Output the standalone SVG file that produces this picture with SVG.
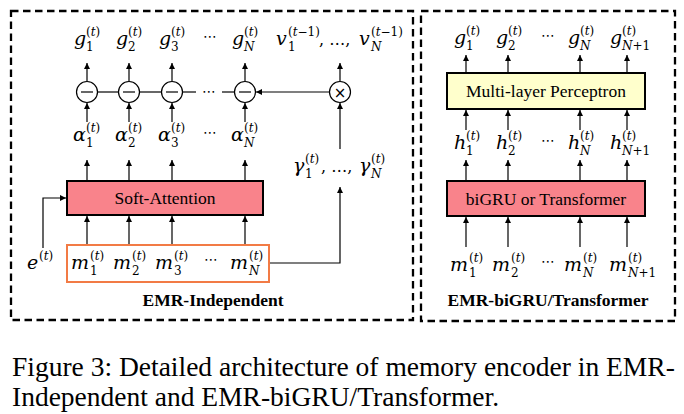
<svg xmlns="http://www.w3.org/2000/svg" width="684" height="414" viewBox="0 0 684 414">
<defs>
<marker id="ah" markerWidth="8" markerHeight="8" refX="6" refY="3" orient="auto" markerUnits="userSpaceOnUse">
<path d="M0,0 L6,3 L0,6 Z" fill="#000"/>
</marker>
<style>
.frame{fill:none;stroke:#000;stroke-width:2.3;stroke-dasharray:7.5 4.5}
.ln{fill:none;stroke:#000;stroke-width:1.2}
.ar{fill:none;stroke:#000;stroke-width:1.2;marker-end:url(#ah)}
.box{stroke:#000;stroke-width:2}
.pink{fill:#F9838B}
.yel{fill:#FFFFCC}
.op{fill:#fff;stroke:#000;stroke-width:1.2}
.v{font-family:"DejaVu Serif",serif;font-style:italic;font-size:19px;fill:#000}
.s{font-family:"DejaVu Serif",serif;font-size:12px;fill:#000}
.it{font-style:italic}
.dots{font-family:"DejaVu Sans",sans-serif;font-size:14px;fill:#000;text-anchor:middle}
.cm{font-family:"DejaVu Serif",serif;font-size:16px;fill:#000}
.bl{font-family:"Liberation Serif","Times New Roman",serif;font-size:17.5px;fill:#000;text-anchor:middle}
.ttl{font-family:"Liberation Serif","Times New Roman",serif;font-weight:bold;font-size:17.5px;fill:#000;text-anchor:middle}
.cap{font-family:"Liberation Serif","Times New Roman",serif;font-size:27.5px;fill:#000}
.sym{font-family:"DejaVu Sans",sans-serif;font-size:15px;fill:#000;text-anchor:middle}
</style>
</defs>

<g id="frame-left"><rect class="frame" x="11" y="11" width="402" height="309"/></g>
<g id="frame-right"><rect class="frame" x="421" y="11" width="254" height="310"/></g>

<g id="connectors">
<line class="ar" x1="87" y1="81" x2="87" y2="63"/>
<line class="ar" x1="129" y1="81" x2="129" y2="63"/>
<line class="ar" x1="172" y1="81" x2="172" y2="63"/>
<line class="ar" x1="245" y1="81" x2="245" y2="63"/>
<line class="ar" x1="340" y1="81" x2="340" y2="63"/>
<line class="ar" x1="87" y1="122" x2="87" y2="103"/>
<line class="ar" x1="129" y1="122" x2="129" y2="103"/>
<line class="ar" x1="172" y1="122" x2="172" y2="103"/>
<line class="ar" x1="245" y1="122" x2="245" y2="103"/>
<line class="ln" x1="97.5" y1="92" x2="118.5" y2="92"/>
<line class="ln" x1="139.5" y1="92" x2="161.5" y2="92"/>
<line class="ln" x1="182.5" y1="92" x2="196" y2="92"/>
<line class="ln" x1="222" y1="92" x2="234.5" y2="92"/>
<line class="ar" x1="329.5" y1="92" x2="256" y2="92"/>
<line class="ar" x1="340" y1="149" x2="340" y2="103"/>
<line class="ar" x1="87" y1="181" x2="87" y2="160"/>
<line class="ar" x1="129" y1="181" x2="129" y2="160"/>
<line class="ar" x1="172" y1="181" x2="172" y2="160"/>
<line class="ar" x1="245" y1="181" x2="245" y2="160"/>
<line class="ar" x1="87" y1="245" x2="87" y2="216"/>
<line class="ar" x1="129" y1="245" x2="129" y2="216"/>
<line class="ar" x1="172" y1="245" x2="172" y2="216"/>
<line class="ar" x1="245" y1="245" x2="245" y2="216"/>
<polyline class="ar" points="43,248 43,198 66,198"/>
<polyline class="ar" points="269,263 340,263 340,187"/>
<line class="ar" x1="466" y1="73" x2="466" y2="55"/>
<line class="ar" x1="508" y1="73" x2="508" y2="55"/>
<line class="ar" x1="580" y1="73" x2="580" y2="55"/>
<line class="ar" x1="627" y1="73" x2="627" y2="55"/>
<line class="ar" x1="466" y1="130" x2="466" y2="110"/>
<line class="ar" x1="508" y1="130" x2="508" y2="110"/>
<line class="ar" x1="580" y1="130" x2="580" y2="110"/>
<line class="ar" x1="627" y1="130" x2="627" y2="110"/>
<line class="ar" x1="466" y1="181" x2="466" y2="160"/>
<line class="ar" x1="508" y1="181" x2="508" y2="160"/>
<line class="ar" x1="580" y1="181" x2="580" y2="160"/>
<line class="ar" x1="627" y1="181" x2="627" y2="160"/>
<line class="ar" x1="466" y1="247" x2="466" y2="217"/>
<line class="ar" x1="508" y1="247" x2="508" y2="217"/>
<line class="ar" x1="580" y1="247" x2="580" y2="217"/>
<line class="ar" x1="627" y1="247" x2="627" y2="217"/>
</g>

<g id="g-labels-left">
<text class="v" x="74" y="45">g</text><text class="s" x="86" y="51">1</text><text class="s" x="86" y="36">(<tspan class="it">t</tspan>)</text>
<text class="v" x="116" y="45">g</text><text class="s" x="128" y="51">2</text><text class="s" x="128" y="36">(<tspan class="it">t</tspan>)</text>
<text class="v" x="159" y="45">g</text><text class="s" x="171" y="51">3</text><text class="s" x="171" y="36">(<tspan class="it">t</tspan>)</text>
<text class="dots" x="210" y="41">⋯</text>
<text class="v" x="232" y="45">g</text><text class="s it" x="244" y="51">N</text><text class="s" x="244" y="36">(<tspan class="it">t</tspan>)</text>
</g>
<g id="v-label">
<text class="v" x="276" y="45">v</text><text class="s" x="288" y="51">1</text><text class="s" x="288" y="36">(<tspan class="it">t</tspan>−1)</text>
<text class="cm" x="319" y="45">, …,</text>
<text class="v" x="359" y="45">v</text><text class="s it" x="371" y="51">N</text><text class="s" x="371" y="36">(<tspan class="it">t</tspan>−1)</text>
</g>
<g id="minus-1"><circle class="op" cx="87" cy="92" r="10.5"/><line class="ln" x1="81" y1="92" x2="93" y2="92"/></g>
<g id="minus-2"><circle class="op" cx="129" cy="92" r="10.5"/><line class="ln" x1="123" y1="92" x2="135" y2="92"/></g>
<g id="minus-3"><circle class="op" cx="172" cy="92" r="10.5"/><line class="ln" x1="166" y1="92" x2="178" y2="92"/></g>
<g id="chain-dots"><text class="dots" x="209" y="96">⋯</text></g>
<g id="minus-N"><circle class="op" cx="245" cy="92" r="10.5"/><line class="ln" x1="239" y1="92" x2="251" y2="92"/></g>
<g id="times"><circle class="op" cx="340" cy="92" r="10.5"/><text class="sym" x="340" y="97.5">×</text></g>
<g id="alpha-labels">
<text class="v" x="73" y="141">α</text><text class="s" x="86" y="147">1</text><text class="s" x="86" y="132">(<tspan class="it">t</tspan>)</text>
<text class="v" x="115" y="141">α</text><text class="s" x="128" y="147">2</text><text class="s" x="128" y="132">(<tspan class="it">t</tspan>)</text>
<text class="v" x="158" y="141">α</text><text class="s" x="171" y="147">3</text><text class="s" x="171" y="132">(<tspan class="it">t</tspan>)</text>
<text class="dots" x="210" y="137">⋯</text>
<text class="v" x="231" y="141">α</text><text class="s it" x="244" y="147">N</text><text class="s" x="244" y="132">(<tspan class="it">t</tspan>)</text>
</g>
<g id="gamma-label">
<text class="v" x="293" y="172">γ</text><text class="s" x="305" y="178">1</text><text class="s" x="305" y="163">(<tspan class="it">t</tspan>)</text>
<text class="cm" x="321" y="172">, …,</text>
<text class="v" x="359" y="172">γ</text><text class="s it" x="371" y="178">N</text><text class="s" x="371" y="163">(<tspan class="it">t</tspan>)</text>
</g>
<g id="soft-attention">
<rect class="box pink" x="67" y="181" width="196" height="34"/>
<text class="bl" x="165" y="204">Soft-Attention</text>
</g>
<g id="memory-box">
<rect x="67" y="245" width="202" height="37" fill="#fff" stroke="#F27B45" stroke-width="2"/>
<text class="v" x="71" y="269">m</text><text class="s" x="90" y="275">1</text><text class="s" x="90" y="260">(<tspan class="it">t</tspan>)</text>
<text class="v" x="113" y="269">m</text><text class="s" x="132" y="275">2</text><text class="s" x="132" y="260">(<tspan class="it">t</tspan>)</text>
<text class="v" x="155" y="269">m</text><text class="s" x="174" y="275">3</text><text class="s" x="174" y="260">(<tspan class="it">t</tspan>)</text>
<text class="dots" x="211" y="264">⋯</text>
<text class="v" x="230" y="269">m</text><text class="s it" x="249" y="275">N</text><text class="s" x="249" y="260">(<tspan class="it">t</tspan>)</text>
</g>
<g id="e-label">
<text class="v" x="27" y="269">e</text><text class="s" x="39" y="260">(<tspan class="it">t</tspan>)</text>
</g>
<g id="title-left"><text class="ttl" x="213" y="306">EMR-Independent</text></g>

<g id="g-labels-right">
<text class="v" x="454" y="44">g</text><text class="s" x="466" y="50">1</text><text class="s" x="466" y="35">(<tspan class="it">t</tspan>)</text>
<text class="v" x="496" y="44">g</text><text class="s" x="508" y="50">2</text><text class="s" x="508" y="35">(<tspan class="it">t</tspan>)</text>
<text class="dots" x="548" y="40">⋯</text>
<text class="v" x="568" y="44">g</text><text class="s it" x="580" y="50">N</text><text class="s" x="580" y="35">(<tspan class="it">t</tspan>)</text>
<text class="v" x="610" y="44">g</text><text class="s" x="622" y="50"><tspan class="it">N</tspan>+1</text><text class="s" x="622" y="35">(<tspan class="it">t</tspan>)</text>
</g>
<g id="mlp">
<rect class="box yel" x="447" y="73" width="198" height="36"/>
<text class="bl" x="546" y="97">Multi-layer Perceptron</text>
</g>
<g id="h-labels">
<text class="v" x="454" y="149">h</text><text class="s" x="466" y="155">1</text><text class="s" x="466" y="140">(<tspan class="it">t</tspan>)</text>
<text class="v" x="496" y="149">h</text><text class="s" x="508" y="155">2</text><text class="s" x="508" y="140">(<tspan class="it">t</tspan>)</text>
<text class="dots" x="548" y="145">⋯</text>
<text class="v" x="568" y="149">h</text><text class="s it" x="580" y="155">N</text><text class="s" x="580" y="140">(<tspan class="it">t</tspan>)</text>
<text class="v" x="610" y="149">h</text><text class="s" x="622" y="155"><tspan class="it">N</tspan>+1</text><text class="s" x="622" y="140">(<tspan class="it">t</tspan>)</text>
</g>
<g id="bigru">
<rect class="box pink" x="447" y="181" width="198" height="35"/>
<text class="bl" x="546" y="205">biGRU or Transformer</text>
</g>
<g id="m-labels-right">
<text class="v" x="450" y="271">m</text><text class="s" x="469" y="277">1</text><text class="s" x="469" y="262">(<tspan class="it">t</tspan>)</text>
<text class="v" x="492" y="271">m</text><text class="s" x="511" y="277">2</text><text class="s" x="511" y="262">(<tspan class="it">t</tspan>)</text>
<text class="dots" x="548" y="266">⋯</text>
<text class="v" x="564" y="271">m</text><text class="s it" x="583" y="277">N</text><text class="s" x="583" y="262">(<tspan class="it">t</tspan>)</text>
<text class="v" x="609" y="271">m</text><text class="s" x="628" y="277"><tspan class="it">N</tspan>+1</text><text class="s" x="628" y="262">(<tspan class="it">t</tspan>)</text>
</g>
<g id="title-right"><text class="ttl" x="548" y="306">EMR-biGRU/Transformer</text></g>

<g id="caption">
<text class="cap" x="12" y="376">Figure 3: Detailed architecture of memory encoder in EMR-</text>
<text class="cap" x="12" y="406">Independent and EMR-biGRU/Transformer.</text>
</g>
</svg>
